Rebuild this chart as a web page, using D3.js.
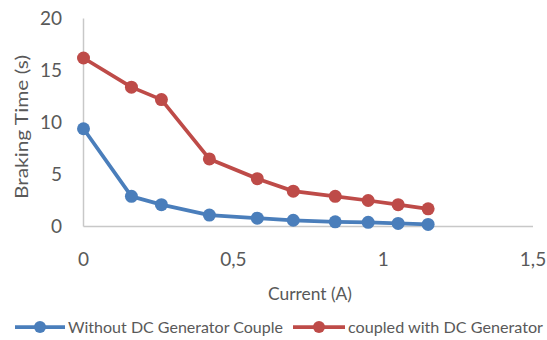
<!DOCTYPE html>
<html>
<head>
<meta charset="utf-8">
<script src="https://cdn.jsdelivr.net/npm/d3@7"></script>
<style>
  html, body { margin: 0; padding: 0; background: #fff; }
  svg text { font-family: Lato, "Open Sans", sans-serif; fill: #595959; }
</style>
</head>
<body>
<svg id="chart" width="547" height="340"></svg>
<script>
// Braking time vs. current, with and without the DC generator coupled
const current = [0, 0.16, 0.26, 0.42, 0.58, 0.7, 0.84, 0.95, 1.05, 1.15];
const withoutGenerator = [9.4, 2.9, 2.1, 1.1, 0.8, 0.6, 0.45, 0.4, 0.3, 0.2];
const withGenerator = [16.2, 13.4, 12.2, 6.5, 4.6, 3.4, 2.9, 2.5, 2.1, 1.7];
const xTicks = [0, 0.5, 1, 1.5];
const yTicks = [0, 5, 10, 15, 20];
const seriesNames = ["Without DC Generator Couple", "coupled with DC Generator"];
const seriesColors = ["#4a7ebb", "#be4b48"];

const svg = d3.select("#chart");
const x = d3.scaleLinear().domain([0, 1.5]).range([83.5, 533]);
const y = d3.scaleLinear().domain([0, 20]).range([226.5, 18.5]);
const fmt = d => String(d).replace(".", ",");

// axis lines
svg.append("line")
  .attr("x1", x(0)).attr("x2", x(0))
  .attr("y1", y(0)).attr("y2", y(20))
  .attr("stroke", "#c8c8c8").attr("stroke-width", 1.5);
svg.append("line")
  .attr("x1", x(0)).attr("x2", x(1.5))
  .attr("y1", y(0)).attr("y2", y(0))
  .attr("stroke", "#c8c8c8").attr("stroke-width", 1.5);

// y tick labels
svg.selectAll(".ytick").data(yTicks).join("text")
  .attr("class", "ytick")
  .attr("x", 62).attr("y", d => y(d))
  .attr("dy", "0.35em")
  .attr("text-anchor", "end")
  .attr("font-size", 19)
  .text(d => d);

// x tick labels
svg.selectAll(".xtick").data(xTicks).join("text")
  .attr("class", "xtick")
  .attr("x", d => x(d)).attr("y", 259)
  .attr("dy", "0.35em")
  .attr("text-anchor", "middle")
  .attr("font-size", 19)
  .text(fmt);

// axis titles
svg.append("text")
  .attr("transform", "translate(22,127) rotate(-90)")
  .attr("text-anchor", "middle")
  .attr("dy", "0.35em")
  .attr("font-size", 17.5)
  .attr("textLength", 144)
  .attr("lengthAdjust", "spacingAndGlyphs")
  .text("Braking Time (s)");
svg.append("text")
  .attr("x", 310).attr("y", 294)
  .attr("text-anchor", "middle")
  .attr("dy", "0.35em")
  .attr("font-size", 17.5)
  .attr("textLength", 84)
  .attr("lengthAdjust", "spacingAndGlyphs")
  .text("Current (A)");

// series
const series = [withoutGenerator, withGenerator];
const line = d3.line().x(d => x(d[0])).y(d => y(d[1]));
series.forEach((vals, i) => {
  const pts = current.map((c, j) => [c, vals[j]]);
  const g = svg.append("g");
  g.append("path")
    .attr("d", line(pts))
    .attr("fill", "none")
    .attr("stroke", seriesColors[i])
    .attr("stroke-width", 3.75)
    .attr("stroke-linejoin", "round");
  g.selectAll("circle").data(pts).join("circle")
    .attr("cx", d => x(d[0])).attr("cy", d => y(d[1]))
    .attr("r", 6.5)
    .attr("fill", seriesColors[i]);
});

// legend
const legendItems = [
  { x0: 15, x1: 65, text: 68, len: 215 },
  { x0: 293, x1: 345, text: 348, len: 195 }
];
const ly = 327;
legendItems.forEach((it, i) => {
  svg.append("line")
    .attr("x1", it.x0).attr("x2", it.x1)
    .attr("y1", ly).attr("y2", ly)
    .attr("stroke", seriesColors[i]).attr("stroke-width", 3.75);
  svg.append("circle")
    .attr("cx", (it.x0 + it.x1) / 2).attr("cy", ly).attr("r", 6)
    .attr("fill", seriesColors[i]);
  svg.append("text")
    .attr("x", it.text).attr("y", ly)
    .attr("dy", "0.35em")
    .attr("font-size", 16)
    .attr("textLength", it.len)
    .attr("lengthAdjust", "spacingAndGlyphs")
    .text(seriesNames[i]);
});
</script>
</body>
</html>
